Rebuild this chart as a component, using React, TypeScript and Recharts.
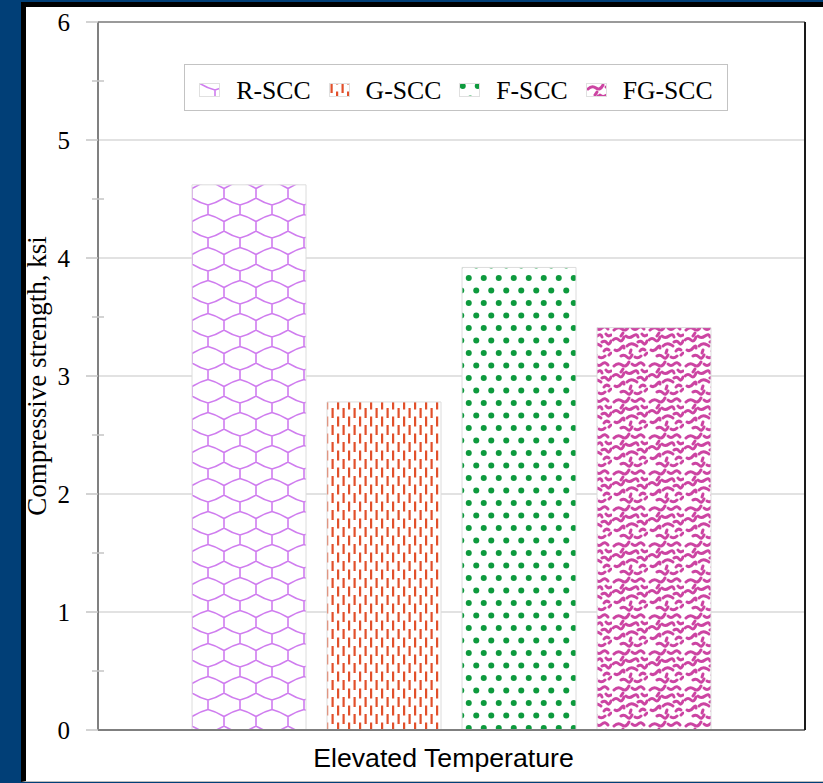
import { BarChart, Bar, XAxis, YAxis, CartesianGrid, Legend, ReferenceLine } from "recharts";

const categories = ["Elevated Temperature"];
const seriesNames = ["R-SCC", "G-SCC", "F-SCC", "FG-SCC"];
const seriesValues = [4.62, 2.78, 3.92, 3.41];
const seriesPatterns = ["patR", "patG", "patF", "patFG"];
const yTicks = [0, 0.5, 1, 1.5, 2, 2.5, 3, 3.5, 4, 4.5, 5, 5.5, 6];
const gridValues = [1, 2, 3, 4, 5];

const data = categories.map((name) => {
  const row: Record<string, string | number> = { name };
  seriesNames.forEach((s, i) => {
    row[s] = seriesValues[i];
  });
  return row;
});

const serif = "'Liberation Serif', 'Times New Roman', serif";
const sans = "'Liberation Sans', Arial, sans-serif";

// squiggles for the FG-SCC fill
const worms = [
  "M2,6 q4,-4 8,-1 t7,-3",
  "M20,4 q3,3 6,0 t6,1",
  "M14,12 q3,3 7,0 t5,1",
  "M30,10 q2,3 5,1",
  "M1,16 q3,-3 6,0 t5,-3",
  "M26,18 q3,-2 5,1 t4,-2",
  "M15,22 q3,-3 6,-2 t4,2",
  "M3,26 q3,2 6,-2 t3,0",
  "M28,27 q2,-3 5,-1",
  "M9,32 q3,-2 6,1 t5,-2",
  "M23,33 q3,2 6,-1",
  "M9,12 l2,-3",
  "M33,31 l2,-2",
  "M18,29 l1,-3",
];

function Patterns() {
  return (
    <svg width={0} height={0} style={{ position: "absolute" }}>
      <defs>
        <pattern id="patR" width={32} height={33} patternUnits="userSpaceOnUse">
          <rect width={32} height={33} fill="#fff" />
          <path
            d="M0,0 Q8,5 16,7 Q24,5 32,0 M16,7 L16,16.5 M0,23.5 Q8,18.5 16,16.5 Q24,18.5 32,23.5 M0,23.5 L0,33 M32,23.5 L32,33"
            fill="none"
            stroke="#cf7cef"
            strokeWidth={1.6}
          />
        </pattern>
        <pattern id="patG" width={11} height={17} patternUnits="userSpaceOnUse">
          <rect width={11} height={17} fill="#fff" />
          <rect x={1.5} y={0} width={2.2} height={10} fill="#e2502b" />
          <rect x={7} y={8.5} width={2.2} height={10} fill="#e2502b" />
          <rect x={7} y={-8.5} width={2.2} height={10} fill="#e2502b" />
        </pattern>
        <pattern id="patF" width={15} height={25} patternUnits="userSpaceOnUse">
          <rect width={15} height={25} fill="#fff" />
          <circle cx={3.75} cy={3} r={3} fill="#0d9a3d" />
          <circle cx={11.25} cy={15.5} r={3} fill="#0d9a3d" />
        </pattern>
        <pattern id="patFG" width={36} height={36} patternUnits="userSpaceOnUse">
          <rect width={36} height={36} fill="#fff" />
          <g fill="none" stroke="#cc44a2" strokeWidth={3} strokeLinecap="round">
            {worms.map((d) => (
              <path key={d} d={d} />
            ))}
          </g>
        </pattern>
      </defs>
    </svg>
  );
}

function YTick(props: any) {
  const { x, y, payload } = props;
  const v = payload.value as number;
  if (v % 1 !== 0) {
    return <line x1={x - 6} x2={x + 6} y1={y} y2={y} stroke="#c4c4c4" strokeWidth={1.5} />;
  }
  return (
    <g>
      <line x1={x - 12} x2={x} y1={y} y2={y} stroke="#c4c4c4" strokeWidth={1.5} />
      <text x={x - 28} y={y + 8.5} textAnchor="end" fontFamily={serif} fontSize={25} fill="#000">
        {v}
      </text>
    </g>
  );
}

function XTick(props: any) {
  const { x, y, payload } = props;
  return (
    <text x={x - 8} y={y + 37} textAnchor="middle" fontFamily={sans} fontSize={26.7} fill="#000">
      {payload.value}
    </text>
  );
}

function YLabel() {
  return (
    <text
      x={46}
      y={376}
      transform="rotate(-90 46 376)"
      textAnchor="middle"
      fontFamily={serif}
      fontSize={27}
      fill="#000"
    >
      Compressive strength, ksi
    </text>
  );
}

function LegendBox() {
  return (
    <div
      style={{
        display: "flex",
        justifyContent: "center",
        alignItems: "center",
        height: "100%",
        paddingTop: 6,
        boxSizing: "border-box",
      }}
    >
      {seriesNames.map((s, i) => (
        <div key={s} style={{ display: "flex", alignItems: "center", margin: "0 9px" }}>
          <svg width={21} height={14}>
            <rect x={0.5} y={0.5} width={20} height={13} fill={`url(#${seriesPatterns[i]})`} stroke="#e0e0e0" />
          </svg>
          <span style={{ marginLeft: 16, fontFamily: serif, fontSize: 25.7, color: "#000", lineHeight: 1 }}>{s}</span>
        </div>
      ))}
    </div>
  );
}

export default function App() {
  return (
    <div style={{ position: "absolute", left: 0, top: 0, width: 823, height: 783, background: "#013f77", overflow: "hidden" }}>
      <div
        style={{
          position: "absolute",
          left: 21,
          top: 2,
          width: 802,
          height: 780,
          background: "#fff",
          borderLeft: "5px solid #000",
          borderTop: "5px solid #000",
          borderBottom: "1px solid #bdbdbd",
          boxSizing: "border-box",
        }}
      />
      <Patterns />
      <BarChart
        width={823}
        height={783}
        data={data}
        margin={{ top: 22, right: 0, bottom: 0, left: 0 }}
        barGap={21}
      >
        <CartesianGrid vertical={false} stroke="#d9d9d9" strokeWidth={1.5} horizontalValues={gridValues} />
        <XAxis
          dataKey="name"
          height={53}
          tickLine={false}
          tickSize={0}
          tickMargin={0}
          axisLine={{ stroke: "#7f7f7f", strokeWidth: 2 }}
          tick={<XTick />}
        />
        <YAxis
          type="number"
          domain={[0, 6]}
          ticks={yTicks}
          interval={0}
          width={98}
          tickLine={false}
          tickSize={0}
          tickMargin={0}
          axisLine={{ stroke: "#808080", strokeWidth: 2 }}
          tick={<YTick />}
          label={<YLabel />}
        />
        <YAxis
          yAxisId="right"
          orientation="right"
          type="number"
          domain={[0, 6]}
          width={18}
          tick={false}
          tickLine={false}
          axisLine={{ stroke: "#1a1a1a", strokeWidth: 2 }}
        />
        <ReferenceLine y={6} stroke="#9a9a9a" strokeWidth={2} />
        <Legend
          layout="horizontal"
          verticalAlign="middle"
          align="center"
          content={<LegendBox />}
          wrapperStyle={{
            left: 184,
            top: 64,
            width: 544,
            height: 47,
            border: "1px solid #c3c3c3",
            boxSizing: "border-box",
            background: "#fff",
          }}
        />
        {seriesNames.map((s, i) => (
          <Bar
            key={s}
            dataKey={s}
            barSize={114}
            fill={`url(#${seriesPatterns[i]})`}
            stroke="#dcdcdc"
            strokeWidth={1}
            isAnimationActive={false}
          />
        ))}
      </BarChart>
    </div>
  );
}
